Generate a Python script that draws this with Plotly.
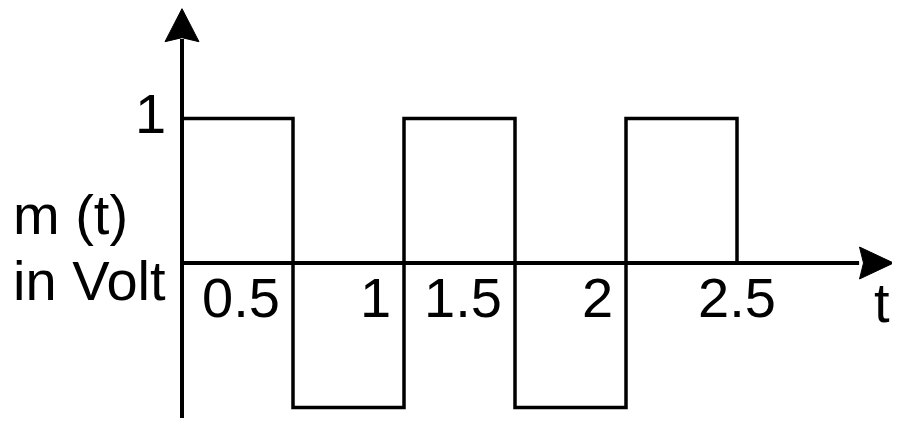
import plotly.graph_objects as go

# square wave m(t), in Volt
t = [0, 0.5, 1, 1.5, 2, 2.5]
m = [1, -1, 1, -1, 1, 0]

tick_vals = [0.5, 1, 1.5, 2, 2.5]
tick_text = ["0.5", "1", "1.5", "2", "2.5"]
level_vals = [1]
level_text = ["1"]

FONT = "Liberation Sans, Arial, sans-serif"
FS = 56

# page has an 8px body margin, so the figure is a bit smaller than the window
W, H = 892, 422
OFF = 8

fig = go.Figure()

# the signal itself, drawn as steps
fig.add_trace(go.Scatter(x=t, y=m, mode="lines", line_shape="hv",
                         line=dict(color="black", width=3.5), hoverinfo="skip"))

# axes lines
fig.add_shape(type="line", x0=0, x1=3.05, y0=0, y1=0, xref="x", yref="y",
              line=dict(color="black", width=4))
fig.add_shape(type="line", x0=0, x1=0, y0=-1.073, y1=1.55, xref="x", yref="y",
              line=dict(color="black", width=4))

# arrow heads (pixel paths anchored at the tips)
fig.add_shape(type="path", xref="x", yref="y", xsizemode="pixel", ysizemode="pixel",
              xanchor=3.205, yanchor=0, path="M 0 0 L -34 16 L -30 0 L -34 -16 Z",
              fillcolor="black", line=dict(color="black", width=1))
fig.add_shape(type="path", xref="x", yref="y", xsizemode="pixel", ysizemode="pixel",
              xanchor=0, yanchor=1.76, path="M 0 0 L -17 -33 L 0 -29 L 17 -33 Z",
              fillcolor="black", line=dict(color="black", width=1))

# tick labels on the time axis
for v, s in zip(tick_vals, tick_text):
    if v == tick_vals[-1]:
        fig.add_annotation(x=v, y=0, text=s, showarrow=False, xanchor="center",
                           yanchor="top", yshift=-1, font=dict(family=FONT, size=FS, color="black"))
    else:
        fig.add_annotation(x=v, y=0, text=s, showarrow=False, xanchor="right",
                           yanchor="top", xshift=-11, yshift=-1,
                           font=dict(family=FONT, size=FS, color="black"))

for v, s in zip(level_vals, level_text):
    fig.add_annotation(x=0, y=v, text=s, showarrow=False, xanchor="right",
                       yanchor="middle", xshift=-14, yshift=5,
                       font=dict(family=FONT, size=FS, color="black"))

# axis names
fig.add_annotation(x=3.2, y=0, text="t", showarrow=False, xanchor="right",
                   yanchor="top", yshift=-6, font=dict(family=FONT, size=FS, color="black"))
fig.add_annotation(x=(11 - OFF) / W, y=1 - (214 - OFF) / H, xref="paper", yref="paper",
                   text="m (t)", showarrow=False, xanchor="left", yanchor="middle",
                   font=dict(family=FONT, size=FS, color="black"))
fig.add_annotation(x=(11 - OFF) / W, y=1 - (280 - OFF) / H, xref="paper", yref="paper",
                   text="in Volt", showarrow=False, xanchor="left", yanchor="middle",
                   font=dict(family=FONT, size=FS, color="black"))

fig.update_layout(
    width=W, height=H,
    margin=dict(l=0, r=0, t=0, b=0),
    paper_bgcolor="white", plot_bgcolor="white",
    showlegend=False,
    xaxis=dict(range=[(OFF - 182) / 222, (OFF + W - 182) / 222], visible=False, fixedrange=True),
    yaxis=dict(range=[(263 - OFF - H) / 144.5, (263 - OFF) / 144.5], visible=False, fixedrange=True),
)

fig.write_html("out.html")
